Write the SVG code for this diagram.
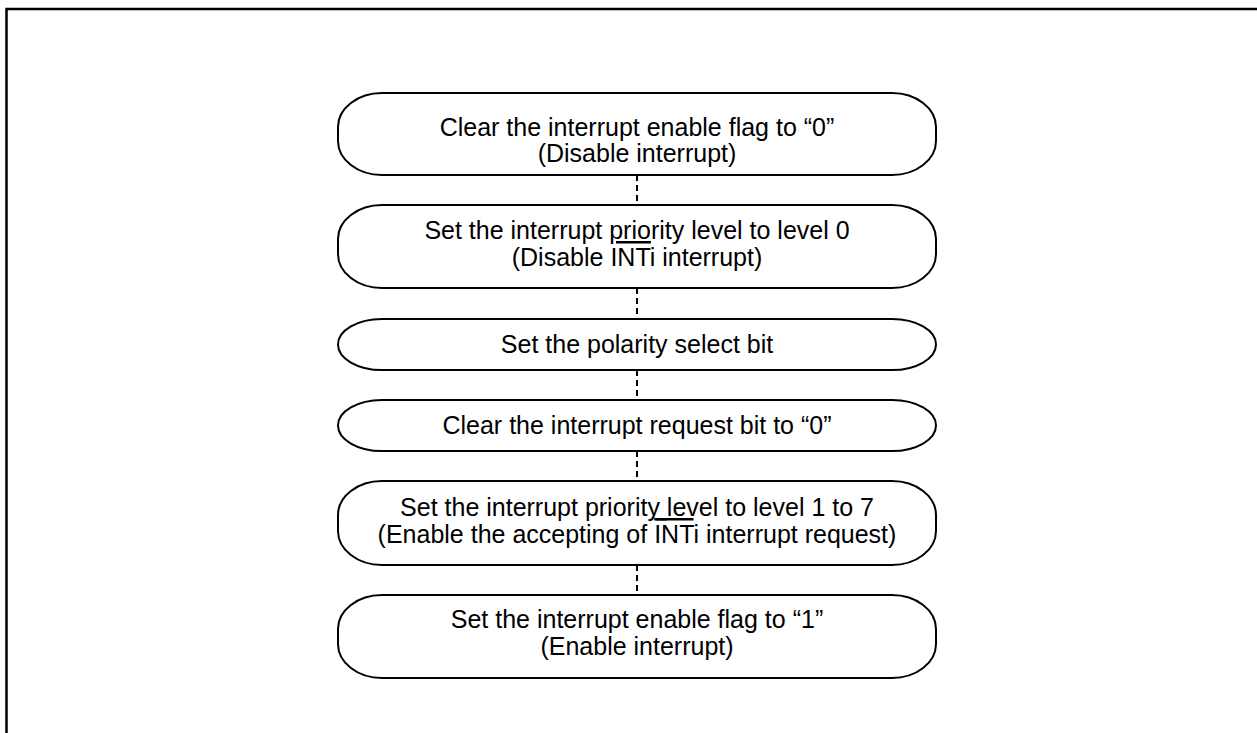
<svg xmlns="http://www.w3.org/2000/svg" width="1257" height="733" viewBox="0 0 1257 733">
<style>
.box{fill:#fff;stroke:#000;stroke-width:2}
.t{font-family:"Liberation Sans",Arial,sans-serif;font-size:25px;fill:#000;text-anchor:middle}
.c{stroke:#000;stroke-width:2;stroke-dasharray:6 4;fill:none}
</style>
<rect x="0" y="0" width="1257" height="733" fill="#fff"/>
<rect id="frame" x="6.5" y="9" width="1300" height="800" fill="none" stroke="#000" stroke-width="2.5"/>
<g id="connectors">
<line class="c" x1="637" y1="175" x2="637" y2="205"/>
<line class="c" x1="637" y1="288" x2="637" y2="319"/>
<line class="c" x1="637" y1="370" x2="637" y2="400"/>
<line class="c" x1="637" y1="451" x2="637" y2="481"/>
<line class="c" x1="637" y1="565" x2="637" y2="595"/>
</g>
<g id="n1">
<rect class="box" x="338" y="93" width="598" height="82" rx="44" ry="34"/>
<text class="t" x="637" y="136">Clear the interrupt enable flag to “0”</text>
<text class="t" x="637" y="162">(Disable interrupt)</text>
</g>
<g id="n2">
<rect class="box" x="338" y="205" width="598" height="83" rx="44" ry="34"/>
<text class="t" x="637" y="239">Set the interrupt <tspan text-decoration="underline">prio</tspan>rity level to level 0</text>
<text class="t" x="637" y="266">(Disable INTi interrupt)</text>
</g>
<g id="n3">
<rect class="box" x="338" y="319" width="598" height="51" rx="44" ry="34"/>
<text class="t" x="637" y="353">Set the polarity select bit</text>
</g>
<g id="n4">
<rect class="box" x="338" y="400" width="598" height="51" rx="44" ry="34"/>
<text class="t" x="637" y="434">Clear the interrupt request bit to “0”</text>
</g>
<g id="n5">
<rect class="box" x="338" y="481" width="598" height="84" rx="44" ry="34"/>
<text class="t" x="637" y="516">Set the interrupt priorit<tspan text-decoration="underline">y </tspan>level to level 1 to 7</text>
<text class="t" x="637" y="543">(Enable the accepting of <tspan text-decoration="overline">INT</tspan>i interrupt request)</text>
</g>
<g id="n6">
<rect class="box" x="338" y="595" width="598" height="83" rx="44" ry="34"/>
<text class="t" x="637" y="628">Set the interrupt enable flag to “1”</text>
<text class="t" x="637" y="655">(Enable interrupt)</text>
</g>
</svg>
